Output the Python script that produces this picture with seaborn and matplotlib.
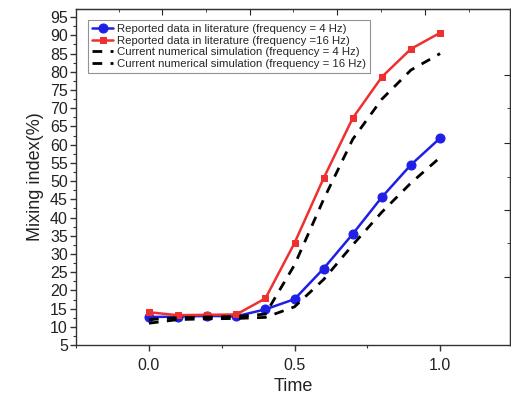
import matplotlib
matplotlib.use("Agg")
import matplotlib.pyplot as plt
from matplotlib.ticker import MultipleLocator
import seaborn as sns

# values
time = [0.0, 0.1, 0.2, 0.3, 0.4, 0.5, 0.6, 0.7, 0.8, 0.9, 1.0]
lit_4hz = [12.7, 12.8, 13.0, 12.9, 14.8, 17.6, 26.0, 35.5, 45.6, 54.5, 61.8]
lit_16hz = [14.0, 13.2, 13.3, 13.4, 17.8, 33.0, 50.8, 67.3, 78.6, 86.3, 90.7]
sim_4hz = [11.0, 12.0, 12.2, 12.3, 12.6, 15.5, 23.0, 32.5, 41.5, 49.5, 56.5]
sim_16hz = [12.0, 12.5, 12.7, 12.8, 13.5, 27.0, 45.0, 61.5, 72.5, 80.5, 85.0]

labels = [
    "Reported data in literature (frequency = 4 Hz)",
    "Reported data in literature (frequency =16 Hz)",
    "Current numerical simulation (frequency = 4 Hz)",
    "Current numerical simulation (frequency = 16 Hz)",
]

sns.set_style("ticks")
plt.rcParams["font.family"] = ["Liberation Sans", "DejaVu Sans"]

fig = plt.figure(figsize=(5.11, 3.98), dpi=100)
ax = fig.add_axes([0.149, 0.133, 0.849, 0.844])

sns.lineplot(x=time, y=lit_4hz, ax=ax, color="#1f1fe6", marker="o",
             markersize=6.5, markeredgecolor="#1f1fe6", linewidth=1.8,
             label=labels[0])
sns.lineplot(x=time, y=lit_16hz, ax=ax, color="#ee3030", marker="s",
             markersize=5, markeredgecolor="#ee3030", linewidth=1.8,
             label=labels[1])
sns.lineplot(x=time, y=sim_4hz, ax=ax, color="black", linestyle=(0, (3.5, 3)),
             linewidth=2.0, label=labels[2])
sns.lineplot(x=time, y=sim_16hz, ax=ax, color="black", linestyle=(0, (3.5, 3)),
             linewidth=2.0, label=labels[3])

ax.set_xlim(-0.25, 1.24)
ax.set_ylim(5, 97.2)
ax.xaxis.set_major_locator(MultipleLocator(0.5))
ax.xaxis.set_minor_locator(MultipleLocator(0.25))
ax.yaxis.set_major_locator(MultipleLocator(5))
ax.yaxis.set_minor_locator(MultipleLocator(2.5))
ax.set_xticks([0.0, 0.5, 1.0])
ax.set_xticklabels(["0.0", "0.5", "1.0"])

ax.tick_params(axis="both", which="major", direction="out", length=4,
               width=1, labelsize=11.5, color="#333333", labelcolor="#222222",
               pad=2)
ax.tick_params(axis="x", which="major", pad=5)
ax.tick_params(axis="both", which="minor", direction="out", length=2,
               width=0.8, color="#333333")

for side in ["left", "bottom", "top", "right"]:
    ax.spines[side].set_visible(True)
    ax.spines[side].set_linewidth(1.0)
    ax.spines[side].set_color("#333333")

top = ax.secondary_xaxis("top")
top.set_xticks([0.045, 0.347, 0.646, 0.948])
top.set_xticks([-0.103, 0.196, 0.495, 0.797, 1.10], minor=True)
top.tick_params(which="major", direction="in", length=4, labeltop=False)
top.tick_params(which="minor", direction="in", length=2)
top.set_xticklabels([])

right = ax.secondary_yaxis("right")
right.set_yticks([79, 60.4, 42, 23.7])
right.set_yticks([70, 51, 33], minor=True)
right.tick_params(which="major", direction="in", length=4, labelright=False)
right.tick_params(which="minor", direction="in", length=2)
right.set_yticklabels([])

ax.set_xlabel("Time", fontsize=13, color="#222222", labelpad=4)
ax.set_ylabel("Mixing index(%)", fontsize=13, color="#222222", labelpad=4)

leg = ax.legend(loc="upper left", bbox_to_anchor=(0.027, 0.968), fontsize=8.2,
                frameon=True, fancybox=False, handlelength=1.9,
                handletextpad=0.35, borderpad=0.35, labelspacing=0.15,
                borderaxespad=0)
leg.get_frame().set_edgecolor("#777777")
leg.get_frame().set_linewidth(0.8)

fig.savefig("out.png", dpi=100)
